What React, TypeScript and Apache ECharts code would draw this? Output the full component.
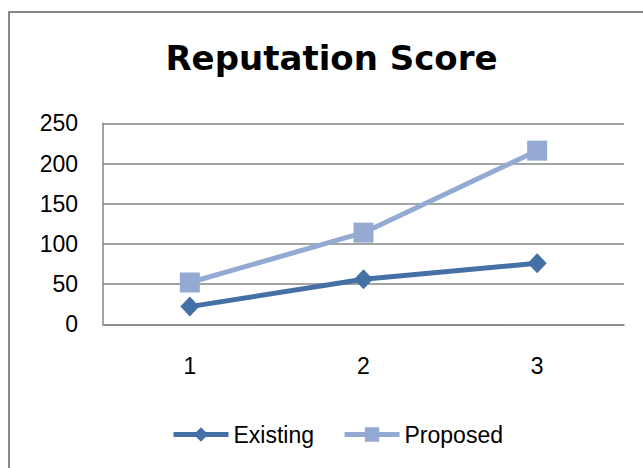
import React, { useEffect, useRef } from "react";
import * as echarts from "echarts";

const categories = ["1", "2", "3"];
const existing = [22, 56, 76];
const proposed = [52, 114, 216];
const yTicks = { min: 0, max: 250, interval: 50 };
const titleText = "Reputation Score";

export default function App() {
  const ref = useRef<HTMLDivElement>(null);
  useEffect(() => {
    if (!ref.current) return;
    const chart = echarts.init(ref.current, null, { renderer: "svg" });
    const gray = "#868686";
    const labelFont = "'Liberation Sans', Arial, sans-serif";
    chart.setOption({
      animation: false,
      backgroundColor: "#ffffff",
      graphic: [
        {
          type: "rect",
          shape: { x: 9, y: 12, width: 700, height: 520 },
          style: { fill: "none", stroke: gray, lineWidth: 2 },
          silent: true,
          z: -10,
        },
        {
          type: "text",
          x: 331.5,
          y: 58,
          style: {
            text: titleText,
            fill: "#000",
            font: "bold 34px 'DejaVu Sans', sans-serif",
            align: "center",
            verticalAlign: "middle",
          },
        },
      ],
      grid: { left: 103, right: 19, top: 123.3, bottom: 143.7, containLabel: false },
      legend: {
        left: 166,
        top: 418,
        itemWidth: 55,
        itemHeight: 18,
        itemGap: 28,
        lineStyle: { width: 5 },
        textStyle: { fontFamily: labelFont, fontSize: 23, color: "#000" },
        data: ["Existing", "Proposed"],
      },
      xAxis: {
        type: "category",
        data: categories,
        axisTick: { show: false },
        axisLine: { lineStyle: { color: gray, width: 1.5 } },
        axisLabel: { margin: 30, fontFamily: labelFont, fontSize: 23, color: "#000" },
      },
      yAxis: {
        type: "value",
        min: yTicks.min,
        max: yTicks.max,
        interval: yTicks.interval,
        axisLine: { show: true, lineStyle: { color: gray, width: 1.5 } },
        axisTick: { show: false },
        splitLine: { lineStyle: { color: gray, width: 1.5 } },
        axisLabel: { margin: 25, fontFamily: labelFont, fontSize: 23, color: "#000" },
      },
      series: [
        {
          name: "Existing",
          type: "line",
          data: existing,
          symbol: "diamond",
          symbolSize: [19, 20],
          lineStyle: { color: "#4470A6", width: 5 },
          itemStyle: { color: "#4470A6" },
        },
        {
          name: "Proposed",
          type: "line",
          data: proposed,
          symbol: "rect",
          symbolSize: 20,
          lineStyle: { color: "#93AAD2", width: 5 },
          itemStyle: { color: "#94AAD3" },
        },
      ],
    });
    return () => chart.dispose();
  }, []);
  return (
    <div
      ref={ref}
      style={{ position: "absolute", left: 0, top: 0, width: 643, height: 468 }}
    />
  );
}
